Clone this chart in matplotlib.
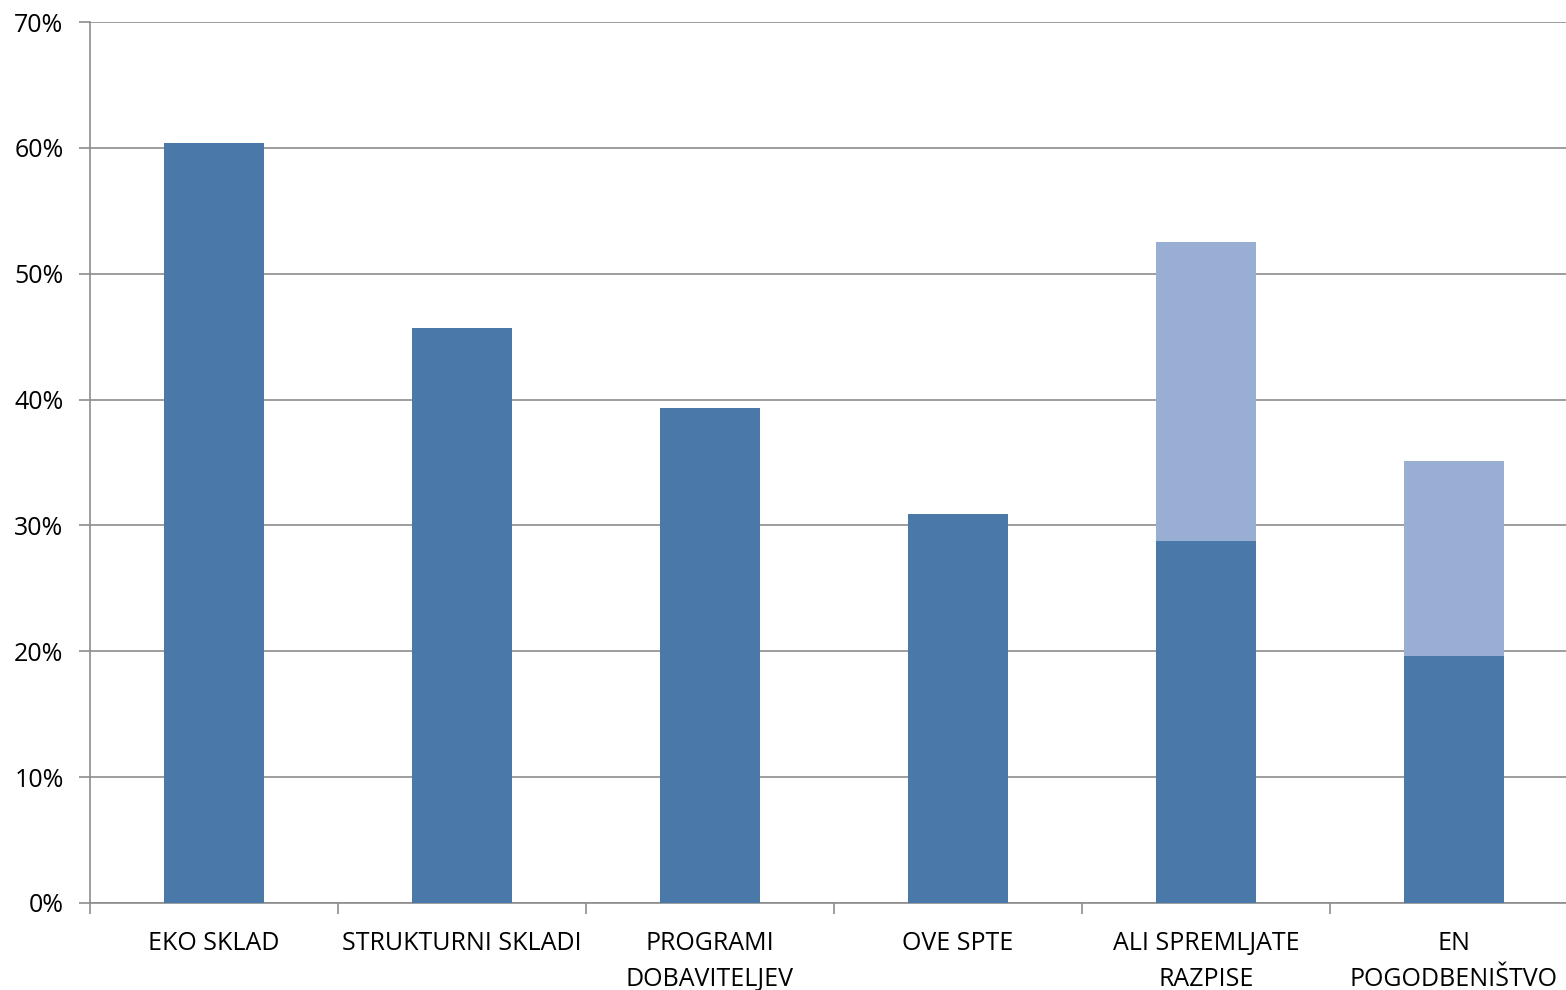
import matplotlib
matplotlib.use("Agg")
import matplotlib.pyplot as plt
import numpy as np

categories = ['EKO SKLAD', 'STRUKTURNI SKLADI', 'PROGRAMI\nDOBAVITELJEV',
              'OVE SPTE', 'ALI SPREMLJATE\nRAZPISE', 'EN\nPOGODBENIŠTVO']
base = [60.4, 45.7, 39.3, 30.9, 28.8, 19.6]
extra = [0, 0, 0, 0, 23.7, 15.5]
yticks = [0, 10, 20, 30, 40, 50, 60, 70]

dark = '#4a78a9'
light = '#98aed3'
grid = '#8c8c8c'

plt.rcParams['font.family'] = ['Open Sans', 'DejaVu Sans']

fig = plt.figure(figsize=(15.66, 9.9), dpi=100)
ax = fig.add_axes([90 / 1566, 87 / 990, 1488 / 1566, 881 / 990])

x = np.arange(len(categories))
ax.bar(x, base, width=0.4, color=dark, zorder=3)
ax.bar(x, extra, width=0.4, bottom=base, color=light, zorder=3)

ax.set_xlim(-0.5, len(categories) - 0.5)
ax.set_ylim(0, 70)
ax.set_yticks(yticks)
ax.set_yticklabels([f'{v}%' for v in yticks], fontsize=18)
ax.yaxis.grid(True, color=grid, linewidth=1.2, zorder=0)

ax.set_xticks(x)
ax.set_xticklabels(categories, fontsize=18, linespacing=1.6)
ax.set_xticks(np.arange(-0.5, len(categories)), minor=True)
ax.tick_params(axis='x', which='major', length=0, pad=20)
ax.tick_params(axis='x', which='minor', length=8, color=grid, width=1.2)
ax.tick_params(axis='y', length=8, color=grid, width=1.2, pad=11)

for s in ['top', 'right']:
    ax.spines[s].set_visible(False)
for s in ['left', 'bottom']:
    ax.spines[s].set_color(grid)
    ax.spines[s].set_linewidth(1.2)

fig.savefig('out.png', dpi=100)
